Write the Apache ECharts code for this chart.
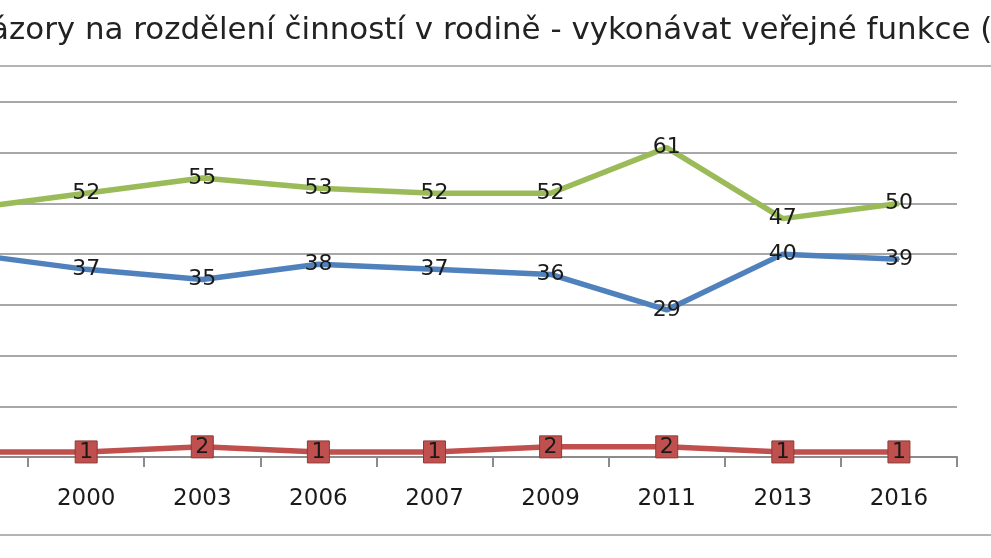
<!DOCTYPE html>
<html>
<head>
<meta charset="utf-8">
<title>Názory na rozdělení činností v rodině</title>
<script src="https://cdn.jsdelivr.net/npm/echarts@6/dist/echarts.min.js"></script>
<style>
  html, body { margin: 0; padding: 0; background: #fff; overflow: hidden; }
  /* graf je v originále useknutý vlevo, proto posun doleva */
  #chart { position: absolute; left: -88px; top: 0; width: 1079px; height: 558px; }
</style>
</head>
<body>
<div id="chart"></div>
<script type="text/javascript">
    // roky průzkumu (první je useknutý vlevo)
    var years = ['1995', '2000', '2003', '2006', '2007', '2009', '2011', '2013', '2016'];
    var spiseMuz = [40, 37, 35, 38, 37, 36, 29, 40, 39];
    var spiseZena = [1, 1, 2, 1, 1, 2, 2, 1, 1];
    var obaStejne = [49, 52, 55, 53, 52, 52, 61, 47, 50];
    var yTicks = { min: 0, max: 70, interval: 10 };

    var font = 'DejaVu Sans, Verdana, sans-serif';

    var dom = document.getElementById('chart');
    var myChart = echarts.init(dom);

    function lineLabel() {
        return {
            show: true,
            position: 'inside',
            fontFamily: font,
            fontSize: 22,
            color: '#1a1a1a',
            textBorderWidth: 0
        };
    }

    var option = {
        backgroundColor: '#fff',
        animation: false,
        title: {
            text: 'Názory na rozdělení činností v rodině - vykonávat veřejné funkce (%)',
            left: 55,
            top: 15,
            padding: 0,
            textStyle: {
                fontFamily: font,
                fontSize: 30.9,
                fontWeight: 'normal',
                color: '#222'
            }
        },
        graphic: [{
            type: 'rect',
            shape: { x: 70, y: 66, width: 1020, height: 469 },
            style: { fill: 'none', stroke: '#b4b4b4', lineWidth: 2 },
            silent: true,
            z: -1
        }],
        grid: {
            left: 0,
            right: 34,
            top: 102,
            bottom: 101
        },
        xAxis: {
            type: 'category',
            data: years,
            boundaryGap: true,
            axisLine: { lineStyle: { color: '#8c8c8c', width: 2 } },
            axisTick: {
                show: true,
                interval: 0,
                length: 10,
                lineStyle: { color: '#8c8c8c', width: 2 }
            },
            axisLabel: {
                interval: 0,
                margin: 31,
                fontFamily: font,
                fontSize: 23,
                color: '#1a1a1a'
            }
        },
        yAxis: {
            type: 'value',
            min: yTicks.min,
            max: yTicks.max,
            interval: yTicks.interval,
            axisLine: { show: false },
            axisTick: { show: false },
            axisLabel: { show: false },
            splitLine: { lineStyle: { color: '#a8a8a8', width: 2 } }
        },
        series: [
            {
                name: 'spíše muž',
                type: 'line',
                data: spiseMuz,
                symbol: 'circle',
                symbolSize: 2,
                lineStyle: { color: '#4F81BD', width: 5.5 },
                itemStyle: { color: '#4F81BD' },
                label: lineLabel(),
                z: 3
            },
            {
                name: 'spíše žena',
                type: 'line',
                data: spiseZena,
                symbol: 'rect',
                symbolSize: 22,
                lineStyle: { color: '#C0504D', width: 5.5 },
                itemStyle: { color: '#C0504D', borderColor: '#8e3a37', borderWidth: 1 },
                label: lineLabel(),
                z: 3
            },
            {
                name: 'oba stejně',
                type: 'line',
                data: obaStejne,
                symbol: 'circle',
                symbolSize: 2,
                lineStyle: { color: '#9BBB59', width: 5.5 },
                itemStyle: { color: '#9BBB59' },
                label: lineLabel(),
                z: 3
            }
        ]
    };

    myChart.setOption(option, true);
</script>
</body>
</html>
